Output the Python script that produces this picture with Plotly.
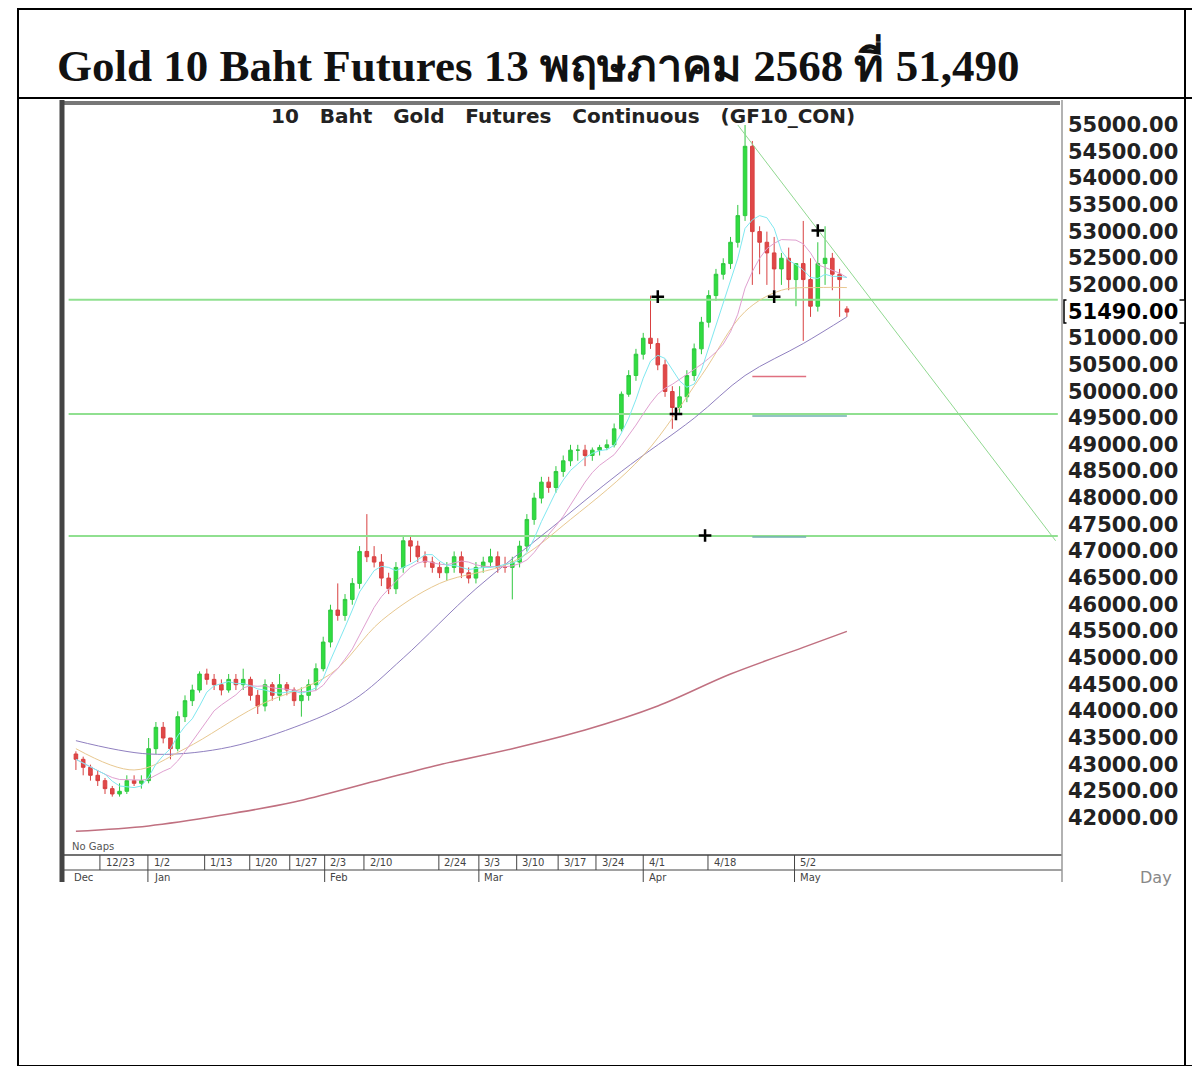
import plotly.graph_objects as go
import pandas as pd

opens = [43200,43100,42950,42800,42700,42550,42450,42500,42700,42650,
42700,43300,43700,43500,43300,43900,44200,44400,44700,44600,
44500,44400,44600,44500,44600,44300,44100,44500,44300,44500,
44400,44200,44300,44500,44800,45300,45900,45800,46100,46400,
47000,46900,46800,46500,46300,46700,47200,47100,46900,46800,
46700,46600,46700,46900,46600,46500,46700,46800,46900,46700,
46700,46800,47100,47600,48000,48300,48200,48500,48700,48900,
48900,48800,48900,48950,49000,49300,49950,50300,50700,51000,
50900,50500,50000,49700,49900,50300,50800,51300,51800,52200,
52400,52800,53300,54600,53000,52800,52600,52300,52500,52100,
52400,52100,51600,52400,52500,52200,51550]
closes = [43100,42950,42800,42700,42550,42450,42500,42700,42650,42700,
43300,43700,43500,43300,43900,44200,44400,44700,44600,44500,
44400,44600,44500,44600,44300,44100,44500,44300,44500,44400,
44200,44300,44500,44800,45300,45900,45800,46100,46400,47000,
46900,46800,46500,46300,46700,47200,47100,46900,46800,46700,
46600,46700,46900,46600,46500,46700,46800,46900,46700,46700,
46800,47100,47600,48000,48300,48200,48500,48700,48900,48900,
48800,48900,48950,49000,49300,49950,50300,50700,51000,50900,
50500,50000,49700,49900,50300,50800,51300,51800,52200,52400,
52800,53300,54600,53000,52800,52600,52300,52500,52100,52400,
52100,51600,52400,52500,52200,52100,51490]
highs = [43250,43150,43000,42900,42750,42600,42650,42800,42800,42800,
43500,43800,43800,43500,44000,44300,44500,44750,44800,44700,
44600,44700,44700,44800,44650,44400,44600,44550,44700,44550,
44450,44450,44600,44900,45400,46000,46400,46200,46500,47100,
47700,47100,46950,46600,46800,47300,47300,47200,47000,46900,
46800,46800,47000,47000,46700,46800,46900,47050,47000,46900,
46900,47200,47700,48100,48400,48400,48600,48800,49000,49000,
49000,48950,49000,49100,49400,50000,50400,50800,51100,51800,
51000,50600,50100,50100,50400,50900,51400,51900,52300,52500,
52900,53500,55000,54700,53100,53000,52900,52600,52700,52400,
53200,52500,52800,53100,52600,52300,51600]
lows = [42900,42800,42700,42600,42450,42400,42400,42450,42600,42550,
42650,43200,43400,43100,43250,43800,44100,44350,44500,44400,
44300,44350,44400,44400,44200,43950,44000,44200,44200,44300,
44100,43900,44200,44400,44750,45200,45700,45700,46000,46300,
46800,46700,46350,46200,46200,46600,46800,46800,46700,46600,
46500,46450,46600,46500,46400,46400,46600,46700,46600,46600,
46100,46700,47000,47500,47900,48100,48100,48400,48600,48700,
48600,48700,48800,48900,48950,49250,49900,50200,50600,50800,
50400,49900,49300,49600,49800,50200,50700,51200,51700,52100,
52300,52700,53200,52000,52200,52000,51900,52000,51900,51600,
50950,51400,51500,52000,51900,51400,51400]

ma25_x = [0,8,15,25,35,42,50,60,68,78,86,92,97,102,106]
ma25_y = [43300,42900,43300,44100,44700,45700,46400,46800,47600,48800,50300,51500,51900,51950,51950]
ma50_x = [0,10,20,30,38,45,55,65,75,85,92,100,106]
ma50_y = [43450,43200,43300,43700,44200,45000,46300,47400,48500,49500,50300,50900,51400]
ma200_x = [0,10,20,30,40,50,60,70,80,90,100,106]
ma200_y = [41750,41850,42050,42300,42650,43000,43300,43650,44100,44700,45200,45500]

hlines = [51720, 49580, 47290]
trend_x = [91, 134.7]
trend_y = [55000, 47200]
seg_red = ([93, 100.4], 50280)
seg_teal = [([93, 106], 49540), ([93, 100.4], 47270)]
cross_x = [80, 96, 82.5, 86.5, 102]
cross_y = [51780, 51780, 49580, 47300, 53020]

tick_idx = [3.8, 10.4, 18.2, 24.4, 29.9, 34.7, 40.1, 50.4, 55.9, 61.1, 66.8, 72, 78.5, 87.4, 99.3]
tick_lab = ["12/23","1/2","1/13","1/20","1/27","2/3","2/10","2/24","3/3","3/10","3/17","3/24","4/1","4/18","5/2"]
month_idx = [-0.5, 10.4, 34.7, 55.9, 78.5, 99.3]
month_lab = ["Dec","Jan","Feb","Mar","Apr","May"]
ytick_vals = list(range(42000, 55001, 500))

W, H, OFF = 1184, 1058, 8
def px(v): return (v - OFF) / W
def py(v): return 1 - (v - OFF) / H

x = list(range(len(closes)))
cs = pd.Series(closes)
ma5 = cs.rolling(5, min_periods=1).mean()
ma10 = cs.rolling(10, min_periods=1).mean()

fig = go.Figure()
for yv in hlines:
    fig.add_trace(go.Scatter(x=[-1, 135], y=[yv, yv], mode="lines", line=dict(color="#90e090", width=2), hoverinfo="skip"))
fig.add_trace(go.Scatter(x=trend_x, y=trend_y, mode="lines", line=dict(color="#90d890", width=1)))
fig.add_trace(go.Scatter(x=seg_red[0], y=[seg_red[1]]*2, mode="lines", line=dict(color="#e07080", width=1.5)))
for sx, sy in seg_teal:
    fig.add_trace(go.Scatter(x=sx, y=[sy]*2, mode="lines", line=dict(color="#70b0b0", width=1.5)))
fig.add_trace(go.Scatter(x=ma200_x, y=ma200_y, mode="lines", line=dict(color="#c07080", width=1.5, shape="spline")))
fig.add_trace(go.Scatter(x=ma50_x, y=ma50_y, mode="lines", line=dict(color="#9080c0", width=1, shape="spline")))
fig.add_trace(go.Scatter(x=ma25_x, y=ma25_y, mode="lines", line=dict(color="#e8c890", width=1, shape="spline")))
fig.add_trace(go.Scatter(x=x, y=ma10, mode="lines", line=dict(color="#e0a0d0", width=1)))
fig.add_trace(go.Scatter(x=x, y=ma5, mode="lines", line=dict(color="#80e8f0", width=1)))
fig.add_trace(go.Candlestick(x=x, open=opens, high=highs, low=lows, close=closes,
    increasing=dict(line=dict(color="#30c840", width=1), fillcolor="#30dd40"),
    decreasing=dict(line=dict(color="#d84040", width=1), fillcolor="#e04848"),
    whiskerwidth=0))
fig.add_trace(go.Scatter(x=cross_x, y=cross_y, mode="markers", marker=dict(symbol="cross-thin", size=9, line=dict(color="black", width=2.5))))

shapes = []
for xi in tick_idx:
    shapes.append(dict(type="line", xref="x", yref="paper", x0=xi - 0.5, x1=xi - 0.5, y0=py(870), y1=py(855), line=dict(color="#444", width=1)))
for xi in month_idx[1:]:
    shapes.append(dict(type="line", xref="x", yref="paper", x0=xi - 0.5, x1=xi - 0.5, y0=py(882), y1=py(870), line=dict(color="#444", width=1)))
def hl(y, x0, x1, w=2, c="black"):
    shapes.append(dict(type="line", xref="paper", yref="paper", x0=px(x0), x1=px(x1), y0=py(y), y1=py(y), line=dict(color=c, width=w)))
def vl(xp, y0, y1, w=2, c="black"):
    shapes.append(dict(type="line", xref="paper", yref="paper", x0=px(xp), x1=px(xp), y0=py(y0), y1=py(y1), line=dict(color=c, width=w)))
hl(9, 18, 1192); hl(98, 18, 1192); hl(1066, 18, 1192)
vl(18, 8, 1066); vl(1185, 8, 1066)
hl(103, 60, 1060, 4, "#777")
vl(62, 100, 882, 5, "#444")
hl(855, 62, 1062, 1.5, "#444"); hl(870, 62, 1062, 1, "#444")
vl(1062, 100, 882, 1.5, "#999")
shapes.append(dict(type="rect", xref="paper", yref="paper", x0=px(1064), x1=px(1185), y0=py(323), y1=py(300), line=dict(color="black", width=1.5), fillcolor="white"))

ann = []
ann.append(dict(text="<b>Gold 10 Baht Futures 13 พฤษภาคม 2568 ที่ 51,490</b>", x=px(55), y=py(62), xref="paper", yref="paper", xanchor="left", yanchor="middle", showarrow=False, font=dict(family="Liberation Serif, Noto Serif, serif", size=45, color="#111")))
ann.append(dict(text="<b>10   Baht   Gold   Futures   Continuous   (GF10_CON)</b>", x=px(563), y=py(116), xref="paper", yref="paper", xanchor="center", yanchor="middle", showarrow=False, font=dict(family="DejaVu Sans", size=20, color="#222")))
for v in ytick_vals:
    ann.append(dict(text="<b>%d.00</b>" % v, x=px(1066), y=v, xref="paper", yref="y", xanchor="left", yanchor="middle", showarrow=False, font=dict(family="DejaVu Sans", size=21, color="#222")))
ann.append(dict(text="<b>51490.00</b>", x=px(1066), y=closes[-1], xref="paper", yref="y", xanchor="left", yanchor="middle", showarrow=False, bgcolor="white", font=dict(family="DejaVu Sans", size=21, color="#000")))
for xi, lab in zip(tick_idx, tick_lab):
    ann.append(dict(text=lab, x=xi, y=py(862), xref="x", yref="paper", xanchor="left", yanchor="middle", showarrow=False, font=dict(family="DejaVu Sans", size=10, color="#444")))
for xi, lab in zip(month_idx, month_lab):
    ann.append(dict(text=lab, x=xi, y=py(877), xref="x", yref="paper", xanchor="left", yanchor="middle", showarrow=False, font=dict(family="DejaVu Sans", size=10, color="#444")))
ann.append(dict(text="No Gaps", x=px(70), y=py(846), xref="paper", yref="paper", xanchor="left", yanchor="middle", showarrow=False, font=dict(family="DejaVu Sans", size=10, color="#555")))
ann.append(dict(text="Day", x=px(1138), y=py(877), xref="paper", yref="paper", xanchor="left", yanchor="middle", showarrow=False, font=dict(family="DejaVu Sans", size=16, color="#888")))

fig.update_layout(width=W, height=H, margin=dict(l=0, r=0, t=0, b=0), showlegend=False,
    paper_bgcolor="white", plot_bgcolor="white", shapes=shapes, annotations=ann,
    xaxis=dict(domain=[px(65), px(1060)], range=[-1.5, 135.3], showgrid=False, showticklabels=False, zeroline=False, rangeslider=dict(visible=False)),
    yaxis=dict(domain=[py(855), py(105)], range=[41305, 55375], showgrid=False, showticklabels=False, zeroline=False))
fig.write_html("out.html")
